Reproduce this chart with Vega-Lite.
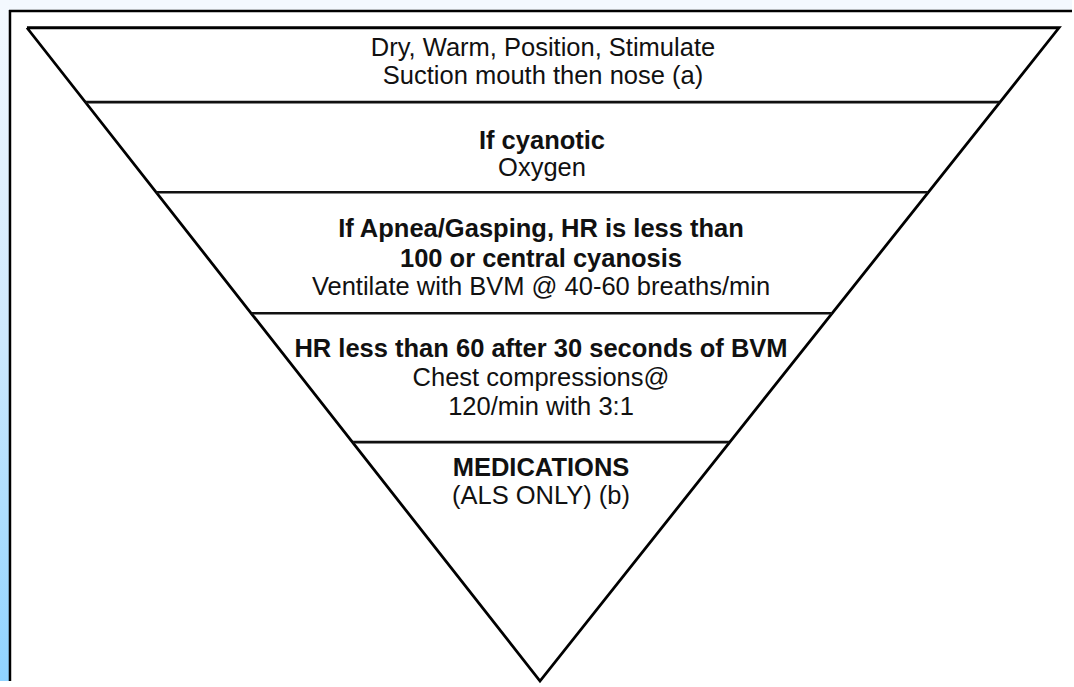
{
  "$schema": "https://vega.github.io/schema/vega-lite/v6.json",
  "width": 1074,
  "height": 687,
  "padding": 0,
  "autosize": {"type": "fit", "contains": "padding"},
  "background": "white",
  "config": {"view": {"stroke": null}},
  "datasets": {
    "leftstrip": [{"x": 0, "x2": 9, "y": 0, "y2": 687}],
    "topstrip": [{"x": 0, "x2": 1074, "y": 0, "y2": 10}],
    "border": [
      {"x": 9, "x2": 1074, "y": 11, "y2": 11},
      {"x": 10, "x2": 10, "y": 10, "y2": 687}
    ],
    "triangle": [
      {"i": 0, "x": 27, "y": 28},
      {"i": 1, "x": 1061, "y": 28},
      {"i": 2, "x": 541, "y": 687},
      {"i": 3, "x": 27, "y": 28}
    ],
    "dividers": [
      {"x": 85.6, "x2": 1001.7, "y": 103},
      {"x": 156.7, "x2": 929.8, "y": 194},
      {"x": 252.0, "x2": 833.4, "y": 316},
      {"x": 353.5, "x2": 730.6, "y": 446}
    ],
    "texts": [
      {"t": "Dry, Warm, Position, Stimulate", "x": 544, "y": 56, "w": "normal"},
      {"t": "Suction mouth then nose (a)", "x": 544, "y": 85, "w": "normal"},
      {"t": "If cyanotic", "x": 543, "y": 150, "w": "bold"},
      {"t": "Oxygen", "x": 543, "y": 178, "w": "normal"},
      {"t": "If Apnea/Gasping, HR is less than", "x": 542, "y": 239, "w": "bold"},
      {"t": "100 or central cyanosis", "x": 542, "y": 269, "w": "bold"},
      {"t": "Ventilate with BVM @ 40-60 breaths/min", "x": 542, "y": 298, "w": "normal"},
      {"t": "HR less than 60 after 30 seconds of BVM", "x": 542, "y": 360, "w": "bold"},
      {"t": "Chest compressions@", "x": 542, "y": 389, "w": "normal"},
      {"t": "120/min with 3:1", "x": 542, "y": 419, "w": "normal"},
      {"t": "MEDICATIONS", "x": 542, "y": 480, "w": "bold"},
      {"t": "(ALS ONLY) (b)", "x": 542, "y": 508, "w": "normal"}
    ]
  },
  "layer": [
    {
      "data": {"name": "leftstrip"},
      "mark": {"type": "rect", "color": {"gradient": "linear", "x1": 0, "y1": 0, "x2": 0, "y2": 1, "stops": [{"offset": 0, "color": "#f4f9ff"}, {"offset": 0.5, "color": "#cde8fd"}, {"offset": 1, "color": "#8fd3ff"}]}},
      "encoding": {
        "x": {"field": "x", "type": "quantitative", "scale": {"domain": [0, 1074], "nice": false, "zero": false}, "axis": null},
        "x2": {"field": "x2"},
        "y": {"field": "y", "type": "quantitative", "scale": {"domain": [0, 687], "nice": false, "zero": false, "reverse": true}, "axis": null},
        "y2": {"field": "y2"}
      }
    },
    {
      "data": {"name": "topstrip"},
      "mark": {"type": "rect", "color": "#f3f8fe"},
      "encoding": {
        "x": {"field": "x", "type": "quantitative", "axis": null},
        "x2": {"field": "x2"},
        "y": {"field": "y", "type": "quantitative", "axis": null},
        "y2": {"field": "y2"}
      }
    },
    {
      "data": {"name": "border"},
      "mark": {"type": "rule", "color": "#000000", "strokeWidth": 2.5},
      "encoding": {
        "x": {"field": "x", "type": "quantitative", "axis": null},
        "x2": {"field": "x2"},
        "y": {"field": "y", "type": "quantitative", "axis": null},
        "y2": {"field": "y2"}
      }
    },
    {
      "data": {"name": "triangle"},
      "mark": {"type": "line", "color": "#000000", "strokeWidth": 2.8, "strokeJoin": "miter"},
      "encoding": {
        "x": {"field": "x", "type": "quantitative", "axis": null},
        "y": {"field": "y", "type": "quantitative", "axis": null},
        "order": {"field": "i", "type": "quantitative"}
      }
    },
    {
      "data": {"name": "dividers"},
      "mark": {"type": "rule", "color": "#111111", "strokeWidth": 2.6},
      "encoding": {
        "x": {"field": "x", "type": "quantitative", "axis": null},
        "x2": {"field": "x2"},
        "y": {"field": "y", "type": "quantitative", "axis": null}
      }
    },
    {
      "data": {"name": "texts"},
      "transform": [{"filter": "datum.w === 'normal'"}],
      "mark": {"type": "text", "font": "Liberation Sans", "fontSize": 25.5, "fontWeight": "normal", "align": "center", "baseline": "alphabetic", "color": "#111111"},
      "encoding": {
        "x": {"field": "x", "type": "quantitative", "axis": null},
        "y": {"field": "y", "type": "quantitative", "axis": null},
        "text": {"field": "t"}
      }
    },
    {
      "data": {"name": "texts"},
      "transform": [{"filter": "datum.w === 'bold'"}],
      "mark": {"type": "text", "font": "Liberation Sans", "fontSize": 25.5, "fontWeight": "bold", "align": "center", "baseline": "alphabetic", "color": "#111111"},
      "encoding": {
        "x": {"field": "x", "type": "quantitative", "axis": null},
        "y": {"field": "y", "type": "quantitative", "axis": null},
        "text": {"field": "t"}
      }
    }
  ]
}
